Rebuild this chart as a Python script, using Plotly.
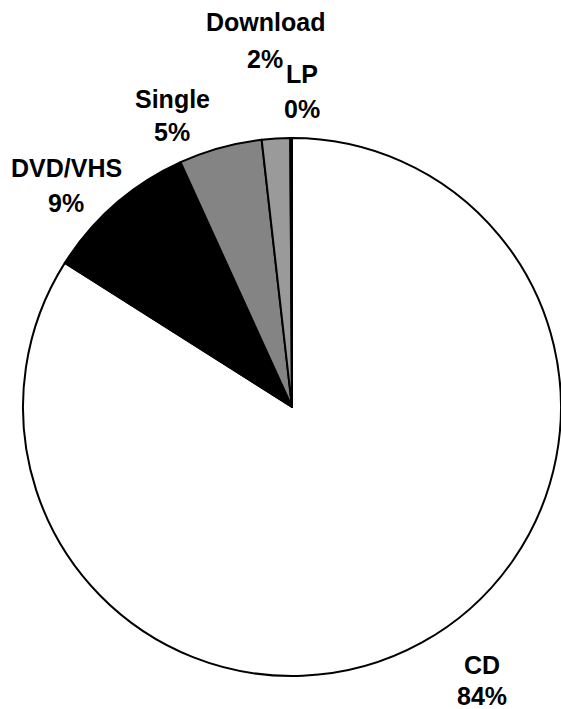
import plotly.graph_objects as go

# Sales share by format
categories = ["CD", "DVD/VHS", "Single", "Download", "LP"]
shares = [84.0, 9.2, 5.0, 1.7, 0.1]

slice_colors = ["#ffffff", "#000000", "#848484", "#9a9a9a", "#c0c0c0"]

W, H = 561, 709
# label block centres (px from top-left): (x, y of name line, y of percent line)
label_pos = {
    "CD": (482, 665, 696),
    "DVD/VHS": (66, 168, 203),
    "Single": (172, 99, 132),
    "Download": (265, 22, 59),
    "LP": (302, 74, 109),
}

# pie placement in pixels
cx, cy, r = 292, 407, 269

fig = go.Figure(
    go.Pie(
        labels=categories,
        values=shares,
        sort=False,
        direction="clockwise",
        rotation=0,
        textinfo="none",
        hoverinfo="label+percent",
        marker=dict(colors=slice_colors, line=dict(color="#000000", width=2)),
        domain=dict(
            x=[(cx - r) / W, min(1.0, (cx + r) / W)],
            y=[(H - cy - r) / H, (H - cy + r) / H],
        ),
        showlegend=False,
    )
)

total = sum(shares)
font = dict(family="Arial, Liberation Sans, sans-serif", size=25, color="#000000")
annotations = []
for name, val in zip(categories, shares):
    x, y1, y2 = label_pos[name]
    pct = f"{round(val / total * 100):.0f}%"
    for txt, y in ((name, y1), (pct, y2)):
        annotations.append(
            dict(
                text=f"<b>{txt}</b>",
                x=x / W,
                y=1 - y / H,
                xref="paper",
                yref="paper",
                xanchor="center",
                yanchor="middle",
                showarrow=False,
                font=font,
            )
        )

fig.update_layout(
    width=W,
    height=H,
    margin=dict(l=0, r=0, t=0, b=0),
    paper_bgcolor="#ffffff",
    plot_bgcolor="#ffffff",
    annotations=annotations,
)

fig.write_html("out.html")
